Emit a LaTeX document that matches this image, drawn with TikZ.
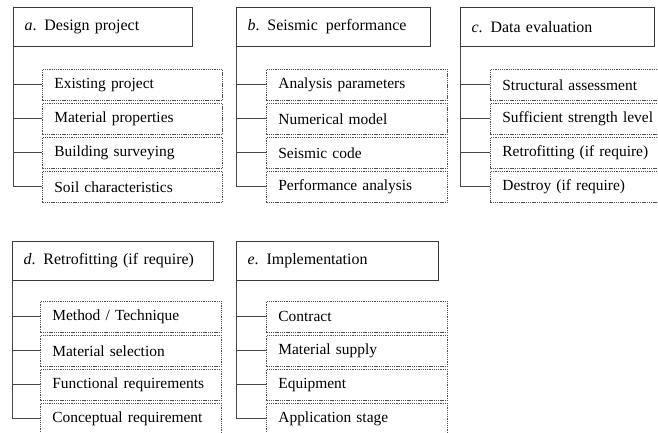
\documentclass[tikz,border=0pt]{standalone}
\usepackage{fontspec}
\setmainfont{Liberation Serif}[WordSpace=0.75]
\definecolor{hd}{HTML}{3A3A3A}
\definecolor{sb}{HTML}{505050}
\definecolor{ln}{HTML}{454545}
\begin{document}
\begin{tikzpicture}[x=1bp,y=-1bp,
  head/.style={draw=hd, line width=1.1bp, minimum height=39bp, inner xsep=11bp, inner ysep=0pt,
    align=left, anchor=north west, font=\fontsize{16}{19}\selectfont},
  sub/.style={draw=sb, line width=0.8bp, dash pattern=on 1.3bp off 0.9bp, minimum height=31bp,
    inner xsep=12bp, inner ysep=0pt, align=left, anchor=north west, font=\fontsize{15.5}{18}\selectfont},
  conn/.style={draw=ln, line width=1bp}]
\clip (0,0) rectangle (658,433);
\fill[white] (0,0) rectangle (658,433);
% a
\node[head, text width=157bp] (a) at (13,7) {\textit{a}. Design project};
\foreach \t [count=\i] in {Existing project, Material properties, Building surveying, Soil characteristics} {
  \node[sub, text width=156bp] (a\i) at (42, {69+34*(\i-1)}) {\t};
  \draw[conn] (a.south west |- a\i.west) -- (a\i.west);
}
\draw[conn] (a.south west) -- (a.south west |- a4.west);
% b
\node[head, text width=172bp] (b) at (236,7) {\textit{b}. Seismic\, performance};
\foreach \t [count=\i] in {Analysis parameters, Numerical model, Seismic code, Performance analysis} {
  \node[sub, text width=157bp] (b\i) at (266, {69+34*(\i-1)}) {\t};
  \draw[conn] (b.south west |- b\i.west) -- (b\i.west);
}
\draw[conn] (b.south west) -- (b.south west |- b4.west);
% c
\node[head, text width=172bp] (c) at (460,7) {\textit{c}. Data evaluation};
\foreach \t [count=\i] in {Structural assessment, Sufficient strength level, Retrofitting (if require), Destroy (if require)} {
  \node[sub, text width=166bp] (c\i) at (490, {69+34*(\i-1)}) {\t};
  \draw[conn] (c.south west |- c\i.west) -- (c\i.west);
}
\draw[conn] (c.south west) -- (c.south west |- c4.west);
% d
\node[head, text width=179bp] (d) at (12,241) {\textit{d}. Retrofitting (if require)};
\foreach \t [count=\i] in {Method / Technique, Material selection, Functional requirements, Conceptual requirement} {
  \node[sub, text width=157bp] (d\i) at (40, {301+34*(\i-1)}) {\t};
  \draw[conn] (d.south west |- d\i.west) -- (d\i.west);
}
\draw[conn] (d.south west) -- (d.south west |- d4.west);
% e
\node[head, text width=180bp] (e) at (236,241) {\textit{e}. Implementation};
\foreach \t [count=\i] in {Contract, Material supply, Equipment, Application stage} {
  \node[sub, text width=157bp] (e\i) at (266, {301+34*(\i-1)}) {\t};
  \draw[conn] (e.south west |- e\i.west) -- (e\i.west);
}
\draw[conn] (e.south west) -- (e.south west |- e4.west);
\end{tikzpicture}
\end{document}
